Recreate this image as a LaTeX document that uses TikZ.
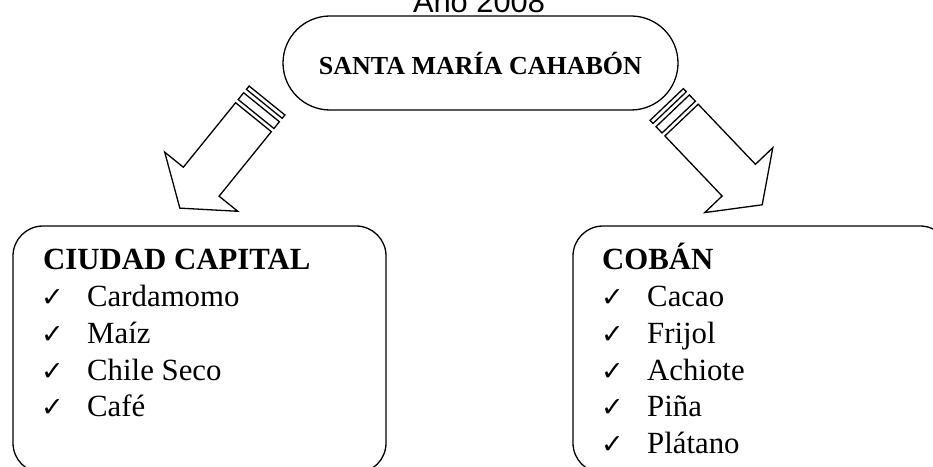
\documentclass[tikz,border=0pt]{standalone}
\usepackage{fontspec}
\setmainfont{Liberation Serif}
\newfontfamily\yearfont{Liberation Sans}
\newfontfamily\tickfont{DejaVu Sans}

\tikzset{
  oval/.style={draw, line width=1.3pt, rounded corners=47pt, minimum width=395pt, minimum height=94pt, font=\bfseries\fontsize{26}{30}\selectfont},
  region/.style={draw, line width=1.3pt, rounded corners=30pt, minimum height=247pt},
  head/.style={anchor=base west, inner sep=0pt, font=\bfseries\fontsize{30.8}{36}\selectfont},
  item/.style={anchor=base west, inner sep=0pt, font=\fontsize{30.8}{36}\selectfont},
  tick/.style={anchor=base west, inner sep=0pt, font=\tickfont\fontsize{27}{30}\selectfont},
  pics/stripedarrow/.style={code={
    \draw[line width=1.3pt] (0,-23) rectangle (4.3,23);
    \draw[line width=1.3pt] (8.7,-23) rectangle (17.4,23);
    \draw[line width=1.3pt, line join=miter] (21.5,23)--(104.5,23)--(104.5,47)--(138.5,0)--(104.5,-47)--(104.5,-23)--(21.5,-23)--cycle;
  }}
}

\begin{document}
\begin{tikzpicture}[x=1pt,y=1pt]
    \useasboundingbox (0,0) rectangle (933,466);
    \node[anchor=base, inner sep=0pt, font=\yearfont\fontsize{30.8}{36}\selectfont] (year) at (479,453) {Año 2008};
    \node[oval] (cahabon) at (480.5,403) {SANTA MARÍA CAHABÓN};
    \node[region, minimum width=373pt] (capital) at (199.5,116.5) {};
    \node[region, minimum width=377pt] (coban) at (761.5,116.5) {};
    % striped block arrows
    \coordinate (tailL) at (267,365.5);
    \coordinate (tailR) at (666.7,361.5);
    \pic[rotate=231] at (tailL) {stripedarrow};
    \pic[rotate=-46.4] at (tailR) {stripedarrow};
    % lists
    \node[head] (capitalhead) at (43,196) {CIUDAD CAPITAL};
    \foreach \crop [count=\i] in {Cardamomo, Maíz, Chile Seco, Café}{
        \node[tick] (ctick\i) at (41,196-\i*36.7) {✓};
        \node[item] (citem\i) at (87,196-\i*36.7) {\crop};
    }
    \node[head] (cobanhead) at (602,196) {COBÁN};
    \foreach \crop [count=\i] in {Cacao, Frijol, Achiote, Piña, Plátano}{
        \node[tick] (btick\i) at (601,196-\i*36.7) {✓};
        \node[item] (bitem\i) at (647,196-\i*36.7) {\crop};
    }
\end{tikzpicture}
\end{document}
